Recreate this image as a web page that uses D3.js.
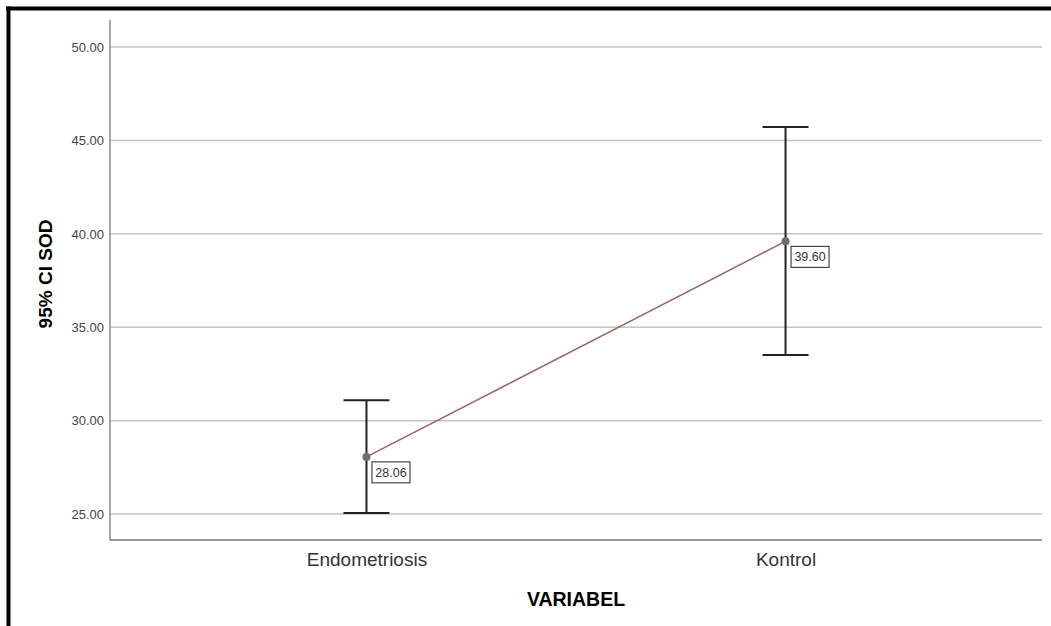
<!DOCTYPE html>
<html>
<head>
<meta charset="utf-8">
<script src="https://cdn.jsdelivr.net/npm/d3@7"></script>
<style>
  body { margin: 0; background: #fff; }
  svg { display: block; font-family: "Liberation Sans", Arial, sans-serif; }
</style>
</head>
<body>
<div id="chart"></div>
<script>
// data
let categories = ["Endometriosis", "Kontrol"];
let means = [28.06, 39.60];
let lower = [25.05, 33.51];
let upper = [31.09, 45.72];
let yTicks = [25, 30, 35, 40, 45, 50];

let W = 1051, H = 626;
let m = {top: 20, right: 9, bottom: 86, left: 110};

let svg = d3.select("#chart").append("svg")
    .attr("width", W)
    .attr("height", H);

// frame (top + left black edges)
svg.append("rect").attr("x", 0).attr("y", 0).attr("width", W).attr("height", H).attr("fill", "#fff");
svg.append("line").attr("x1", 6).attr("x2", W).attr("y1", 8.5).attr("y2", 8.5)
    .attr("stroke", "#000").attr("stroke-width", 4);
svg.append("line").attr("x1", 8.5).attr("x2", 8.5).attr("y1", 6.5).attr("y2", H)
    .attr("stroke", "#000").attr("stroke-width", 4);

let x = d3.scalePoint()
    .domain(categories)
    .range([m.left, W - m.right])
    .padding(0.612);

let y = d3.scaleLinear()
    .domain([23.61, 51.45])
    .range([H - m.bottom, m.top]);

// gridlines
svg.append("g")
  .selectAll("line")
  .data(yTicks)
  .enter().append("line")
    .attr("x1", m.left)
    .attr("x2", W - m.right)
    .attr("y1", (d) => y(d))
    .attr("y2", (d) => y(d))
    .attr("stroke", "#c4c4c4")
    .attr("stroke-width", 1.5);

// y axis
let yAxis = svg.append("g")
    .attr("transform", "translate(" + m.left + ",0)")
    .call(d3.axisLeft(y).tickValues(yTicks).tickSize(0).tickPadding(6)
      .tickFormat((d) => d.toFixed(2)));
yAxis.select(".domain").remove();
yAxis.selectAll("text").attr("font-size", 13).attr("fill", "#444")
    .attr("font-family", "'Liberation Sans', Arial, sans-serif");

svg.append("line")
    .attr("x1", m.left).attr("x2", m.left)
    .attr("y1", m.top).attr("y2", H - m.bottom)
    .attr("stroke", "#888").attr("stroke-width", 1.5);

// x axis
let xAxis = svg.append("g")
    .attr("transform", "translate(0," + (H - m.bottom) + ")")
    .call(d3.axisBottom(x).tickSize(0).tickPadding(13));
xAxis.select(".domain").remove();
xAxis.selectAll("text").attr("font-size", 19).attr("fill", "#333")
    .attr("font-family", "'Liberation Sans', Arial, sans-serif");

svg.append("line")
    .attr("x1", m.left).attr("x2", W - m.right)
    .attr("y1", H - m.bottom).attr("y2", H - m.bottom)
    .attr("stroke", "#777").attr("stroke-width", 1.5);

// axis titles
svg.append("text")
    .attr("transform", "translate(52," + ((m.top + H - m.bottom) / 2 - 6) + ") rotate(-90)")
    .attr("text-anchor", "middle")
    .attr("font-size", 19)
    .attr("font-weight", "bold")
    .attr("fill", "#000")
    .text("95% CI SOD");

svg.append("text")
    .attr("x", (m.left + W - m.right) / 2)
    .attr("y", 606)
    .attr("text-anchor", "middle")
    .attr("font-size", 19.5)
    .attr("font-weight", "bold")
    .attr("fill", "#000")
    .text("VARIABEL");

// mean line
let pts = categories.map((c, i) => [x(c), y(means[i])]);
svg.append("path")
    .attr("d", d3.line()(pts))
    .attr("fill", "none")
    .attr("stroke", "#9a6464")
    .attr("stroke-width", 1.5);

// error bars
let bars = svg.append("g").selectAll("g")
    .data(categories)
    .enter().append("g");

bars.append("line")
    .attr("x1", (d) => x(d)).attr("x2", (d) => x(d))
    .attr("y1", (d, i) => y(upper[i])).attr("y2", (d, i) => y(lower[i]))
    .attr("stroke", "#222").attr("stroke-width", 2);

bars.append("line")
    .attr("x1", (d) => x(d) - 23).attr("x2", (d) => x(d) + 23)
    .attr("y1", (d, i) => y(upper[i])).attr("y2", (d, i) => y(upper[i]))
    .attr("stroke", "#222").attr("stroke-width", 2);

bars.append("line")
    .attr("x1", (d) => x(d) - 23).attr("x2", (d) => x(d) + 23)
    .attr("y1", (d, i) => y(lower[i])).attr("y2", (d, i) => y(lower[i]))
    .attr("stroke", "#222").attr("stroke-width", 2);

bars.append("circle")
    .attr("cx", (d) => x(d))
    .attr("cy", (d, i) => y(means[i]))
    .attr("r", 4)
    .attr("fill", "#6e6e6e");

// value labels
bars.append("rect")
    .attr("x", (d) => x(d) + 5.5)
    .attr("y", (d, i) => y(means[i]) + 5)
    .attr("width", 38)
    .attr("height", 21)
    .attr("fill", "#fff")
    .attr("stroke", "#222")
    .attr("stroke-width", 1);

bars.append("text")
    .attr("x", (d) => x(d) + 24.5)
    .attr("y", (d, i) => y(means[i]) + 20)
    .attr("text-anchor", "middle")
    .attr("font-size", 12.5)
    .attr("fill", "#333")
    .text((d, i) => means[i].toFixed(2));
</script>
</body>
</html>
